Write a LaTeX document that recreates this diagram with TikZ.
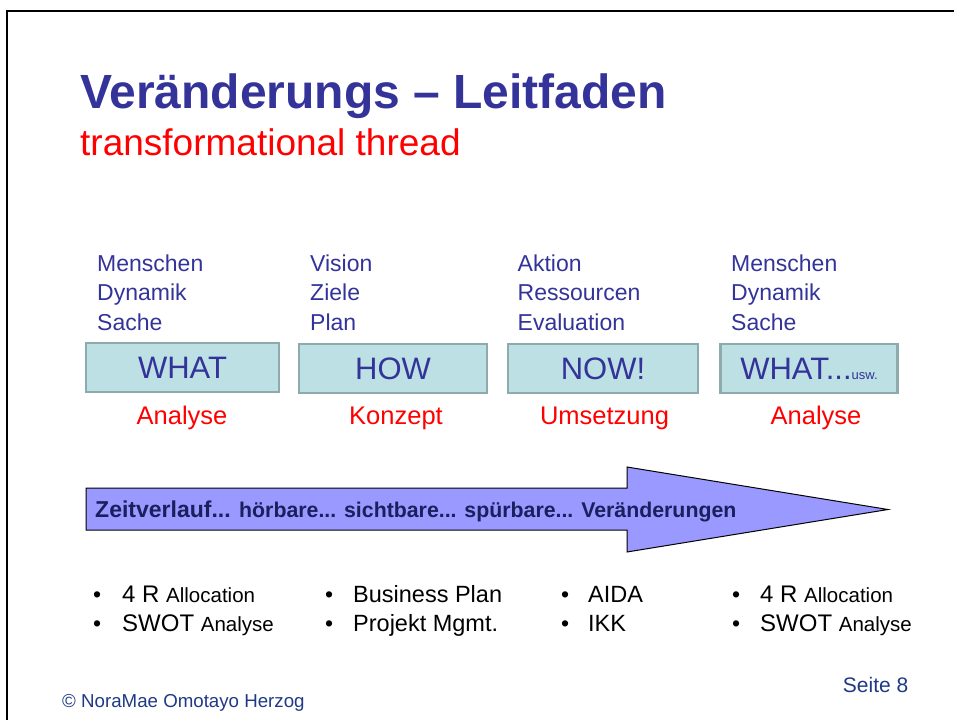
\documentclass[tikz,border=0pt]{standalone}
\usepackage{fontspec}
\setmainfont{Liberation Sans}
\usepackage{xcolor}
\usetikzlibrary{positioning}

\definecolor{titleblue}{HTML}{333399}
\definecolor{boxfill}{HTML}{BCE0E3}
\definecolor{boxline}{HTML}{8EAAAA}
\definecolor{arrowfill}{HTML}{9999FF}
\definecolor{navy}{HTML}{1A1F5E}
\definecolor{footblue}{HTML}{1F3A85}

\newcommand{\setfs}[1]{\fontsize{#1}{#1}\selectfont}

\tikzset{
  coltext/.style={anchor=base west, inner sep=0pt, text=titleblue, font=\setfs{23}},
  stagebox/.style={draw=boxline, fill=boxfill, line width=2.5pt, inner sep=0pt,
                   minimum height=49pt, text=titleblue, font=\setfs{31}},
  phase/.style={anchor=base, inner sep=0pt, text=red, font=\setfs{25.5}},
  bul/.style={anchor=base west, inner sep=0pt, font=\setfs{23}},
  item/.style={anchor=base west, inner sep=0pt, font=\setfs{24}}
}

\begin{document}
\begin{tikzpicture}[x=1pt, y=-1pt]
  \useasboundingbox (0,0) rectangle (954,720);
  % frame
  \draw[line width=2.4pt] (7,720) -- (7,11) -- (954,11);

  % title
  \draw (80,108) node[anchor=base west, inner sep=0pt, text=titleblue, font=\bfseries\setfs{48}] (title) {Veränderungs – Leitfaden};
  \draw (80,155) node[anchor=base west, inner sep=0pt, text=red, font=\setfs{37}] (subtitle) {transformational thread};

  % column texts
  \draw (97,271) node[coltext] (c1a) {Menschen};
  \draw (97,300.5) node[coltext] (c1b) {Dynamik};
  \draw (97,330) node[coltext] (c1c) {Sache};
  \draw (310,271) node[coltext] (c2a) {Vision};
  \draw (310,300.5) node[coltext] (c2b) {Ziele};
  \draw (310,330) node[coltext] (c2c) {Plan};
  \draw (517.5,271) node[coltext] (c3a) {Aktion};
  \draw (517.5,300.5) node[coltext] (c3b) {Ressourcen};
  \draw (517.5,330) node[coltext] (c3c) {Evaluation};
  \draw (731,271) node[coltext] (c4a) {Menschen};
  \draw (731,300.5) node[coltext] (c4b) {Dynamik};
  \draw (731,330) node[coltext] (c4c) {Sache};

  % boxes
  \draw (182.5,367.5) node[stagebox, minimum width=193pt] (what) {WHAT};
  \draw (393,368.5) node[stagebox, minimum width=188pt] (how) {HOW};
  \draw (603,368.5) node[stagebox, minimum width=190pt] (now) {NOW!};
  \draw (809,368.5) node[stagebox, minimum width=177pt] (again) {WHAT...{\setfs{13}usw.}};

  % phase labels
  \draw (182,424) node[phase] (p1) {Analyse};
  \draw (396,424) node[phase] (p2) {Konzept};
  \draw (604.5,424) node[phase] (p3) {Umsetzung};
  \draw (816,424) node[phase] (p4) {Analyse};

  % time arrow
  \draw[fill=arrowfill, line width=1pt] (86,488) -- (627,488) -- (627,467) -- (888,509.5)
        -- (627,552) -- (627,530) -- (86,530) -- cycle;
  \draw (95,517) node[anchor=base west, inner sep=0pt, text=navy, font=\bfseries\setfs{23}] (time)
        {Zeitverlauf... {\setfs{21.3}hörbare... sichtbare... spürbare... Veränderungen}};

  % bullet lists
  \draw (93,602) node[bul] (b1a) {\textbullet};
  \draw (122,602) node[item] (t1a) {4 R {\setfs{20.5}Allocation}};
  \draw (93,631) node[bul] (b1b) {\textbullet};
  \draw (122,631) node[item] (t1b) {SWOT {\setfs{20.5}Analyse}};
  \draw (325,602) node[bul] (b2a) {\textbullet};
  \draw (353,602) node[item, font=\setfs{23.5}] (t2a) {Business Plan};
  \draw (325,631) node[bul] (b2b) {\textbullet};
  \draw (353,631) node[item, font=\setfs{23.5}] (t2b) {Projekt Mgmt.};
  \draw (561,602) node[bul] (b3a) {\textbullet};
  \draw (588,602) node[item, font=\setfs{23.5}] (t3a) {AIDA};
  \draw (561,631) node[bul] (b3b) {\textbullet};
  \draw (588,631) node[item, font=\setfs{23.5}] (t3b) {IKK};
  \draw (732,602) node[bul] (b4a) {\textbullet};
  \draw (760,602) node[item] (t4a) {4 R {\setfs{20.5}Allocation}};
  \draw (732,631) node[bul] (b4b) {\textbullet};
  \draw (760,631) node[item] (t4b) {SWOT {\setfs{20.5}Analyse}};

  % footer
  \draw (62,707) node[anchor=base west, inner sep=0pt, text=footblue, font=\setfs{18.7}] (copy) {© NoraMae Omotayo Herzog};
  \draw (908.5,692) node[anchor=base east, inner sep=0pt, text=footblue, font=\setfs{21}] (page) {Seite 8};
\end{tikzpicture}
\end{document}
